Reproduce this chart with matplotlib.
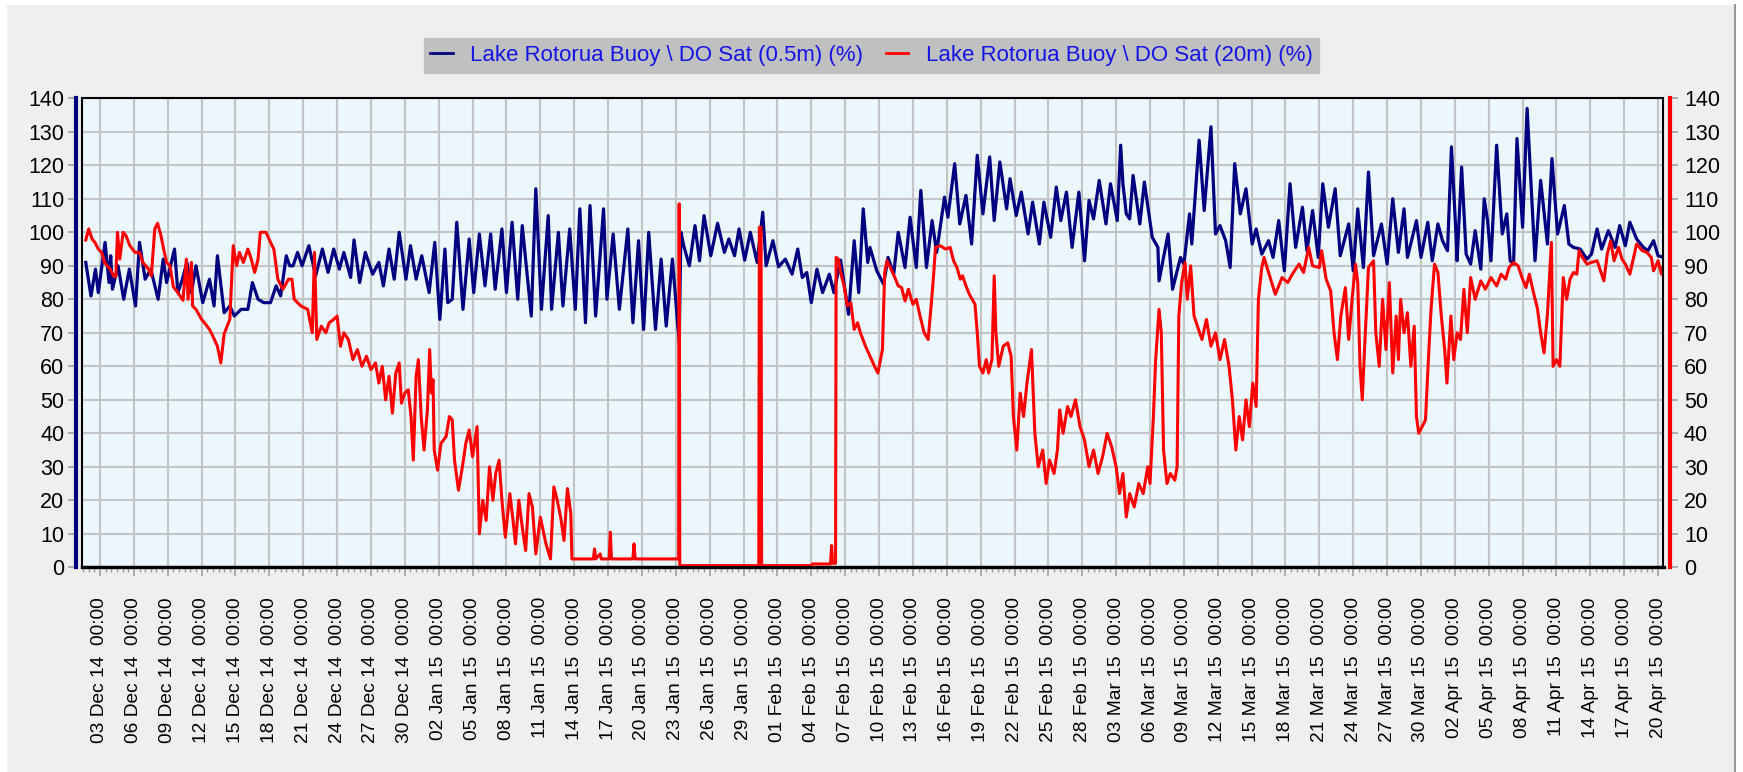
import numpy as np
import pandas as pd
import matplotlib
matplotlib.use("Agg")
import matplotlib.pyplot as plt
import matplotlib.dates as mdates
from matplotlib import font_manager
from matplotlib.patches import Rectangle
from matplotlib.lines import Line2D

# ---------------- data (day number: 1.0 = 01 Dec 2014 00:00) ----------------
series_names = ["Lake Rotorua Buoy \\ DO Sat (0.5m) (%)",
                "Lake Rotorua Buoy \\ DO Sat (20m) (%)"]

blue_day = [1.74, 2.2, 2.6, 2.85, 3.45, 3.8, 3.95, 4.1, 4.6, 5.1, 5.6, 6.15, 6.5, 7.0, 7.5,
            8.15, 8.6, 8.9, 9.6, 9.9, 10.3, 10.7, 11.1, 11.5, 12.1, 12.7, 13.1, 13.4, 14.0,
            14.5, 14.9, 15.5, 16.1, 16.5, 17.0, 17.5, 18.1, 18.6, 19.0, 19.5, 19.8, 20.1,
            20.5, 20.9, 21.5, 22.1, 22.7, 23.2, 23.7, 24.2, 24.6, 25.2, 25.5, 26.0, 26.5,
            27.15, 27.7, 28.1, 28.6, 29.06, 29.5, 30.1, 30.5, 31.0, 31.5, 32.15, 32.65,
            33.1, 33.55, 33.8, 34.2, 34.6, 35.15, 35.7, 36.1, 36.6, 37.1, 37.6, 38.0, 38.6,
            39.0, 39.5, 40.0, 40.4, 41.2, 41.6, 42.1, 42.7, 43.0, 43.6, 44.0, 44.6, 45.1,
            45.5, 46.0, 46.4, 46.9, 47.6, 47.9, 48.45, 49.0, 49.75, 50.2, 50.7, 51.15, 51.6,
            52.2, 52.7, 53.15, 53.7, 54.3, 54.45, 54.7, 55.2, 55.7, 56.1, 56.5, 57.1, 57.7,
            58.3, 58.7, 59.2, 59.6, 60.1, 60.6, 61.2, 61.7, 62.0, 62.6, 63.1, 63.7, 64.3,
            64.8, 65.2, 65.6, 66.0, 66.5, 67.0, 67.6, 68.0, 68.6, 69.3, 69.8, 70.2, 70.6,
            71.0, 71.2, 71.8, 72.4, 72.8, 73.3, 73.7, 74.3, 74.75, 75.3, 75.7, 76.2, 76.7,
            77.1, 77.8, 78.1, 78.7, 79.15, 79.7, 80.2, 80.7, 81.2, 81.8, 82.2, 82.7, 83.3,
            83.6, 84.15, 84.6, 85.2, 85.6, 86.2, 86.6, 87.2, 87.7, 88.1, 88.6, 89.1, 89.7,
            90.2, 90.6, 91.0, 91.5, 92.1, 92.5, 93.1, 93.4, 93.6, 93.9, 94.2, 94.5, 95.1,
            95.5, 96.2, 96.7, 96.8, 97.6, 98.0, 98.7, 99.0, 99.5, 99.7, 100.35, 100.8,
            101.4, 101.8, 102.2, 102.7, 103.1, 103.5, 104.0, 104.5, 105.05, 105.4, 105.9,
            106.5, 106.9, 107.4, 107.9, 108.4, 108.9, 109.5, 109.9, 110.4, 110.9, 111.3,
            111.8, 112.4, 112.85, 113.6, 114.0, 114.4, 114.9, 115.35, 115.8, 116.5, 117.0,
            117.5, 118.0, 118.5, 118.8, 119.6, 120.0, 120.6, 121.0, 121.5, 121.9, 122.35,
            122.7, 123.1, 123.2, 123.6, 124.0, 124.4, 124.8, 125.3, 125.6, 125.9, 126.2,
            126.7, 127.2, 127.6, 127.9, 128.2, 128.5, 129.0, 129.4, 129.7, 130.1, 130.6,
            131.2, 131.6, 132.1, 132.7, 133.1, 133.5, 134.1, 134.7, 135.1, 135.6, 136.0,
            136.6, 137.2, 137.6, 138.1, 138.5, 139.1, 139.7, 140.1, 140.6, 141.0, 141.5]
blue_val = [91, 81, 89, 82, 97, 85, 93, 83, 90, 80, 89, 78, 97, 86, 89,
            80, 92, 85, 95, 82, 86, 91, 82, 90, 79, 86, 78, 93, 76,
            78, 75, 77, 77, 85, 80, 79, 79, 84, 81, 93, 90, 90,
            94, 90, 96, 87, 95, 88, 95, 89, 94, 86.5, 97.7, 85, 94,
            87.5, 91, 84, 95, 86, 100, 86, 96, 86, 93, 82, 97,
            74, 95, 79, 80, 103, 77, 98, 82, 99.5, 84, 99.5, 83, 101,
            82, 103, 80, 102, 75, 113, 77, 105, 77, 100, 78, 101, 77,
            107, 73, 108, 75, 107, 80, 99.5, 77, 101, 73, 97.5, 71, 100,
            71, 92, 72, 92, 67, 100, 96, 90, 102, 91.5, 105, 93, 102.7,
            94, 98, 93, 101, 91.7, 100, 91, 106, 90, 97.5, 89.7, 92, 87.5,
            95, 86.5, 88, 79, 89, 82, 87.5, 82, 91.7, 75.5, 97.5, 82, 107,
            91, 95.5, 88.5, 84.5, 92.5, 87.5, 100, 89.5, 104.5, 89.5, 112.5, 89.5, 103.5,
            94, 110.5, 104.5, 120.5, 102.5, 111, 96.5, 123, 105.5, 122.5, 103.5, 121, 107,
            116, 105, 112, 99.5, 109, 96.5, 109, 98.5, 113.5, 103.5, 112, 95.5, 112,
            91.5, 109.5, 104, 115.5, 102.5, 114.5, 103.5, 126, 114.5, 105.5, 104, 117, 102.5,
            115, 98.5, 95.5, 85.5, 99.5, 83, 92.5, 90.5, 105.5, 96.5, 127.5, 106.5,
            131.5, 99.5, 102, 97.5, 89.5, 120.5, 105.5, 113, 96.5, 101, 93.5,
            97.5, 92.5, 103.5, 88.5, 114.5, 95.5, 107.5, 94.5, 106.5, 92.5, 114.5,
            101.5, 113, 93, 102.5, 88.5, 107, 89.5, 118, 93, 102.5, 90.5,
            110, 94, 107, 92.5, 103.5, 92.5, 103, 91.5, 102.5, 97.5, 94.5,
            125.5, 99.5, 91.5, 119.5, 93.5, 90.5, 100.5, 89, 110, 103.5, 91.5,
            126, 99.5, 105.5, 91.5, 90.5, 128, 101.5, 137, 117.5, 91.5, 115.5,
            96.5, 122, 99.5, 108, 96.5, 95.5, 95, 92, 93.5, 101, 95,
            100.5, 95.5, 102, 96, 103, 98, 95.5, 94.5, 97.5, 93, 92.5]

red_day = [1.74, 2.0, 2.3, 2.55, 2.85, 3.15, 3.4, 3.9, 4.2, 4.4, 4.55, 4.75, 5.05, 5.3, 5.65,
           6.1, 6.5, 6.8, 7.3, 7.55, 7.85, 8.1, 8.4, 8.7, 8.9, 9.2, 9.5, 9.9, 10.35, 10.65,
           10.8, 11.1, 11.2, 11.5, 12.0, 12.25, 12.7, 13.0, 13.4, 13.7, 14.0, 14.5, 14.8,
           15.1, 15.35, 15.7, 16.1, 16.4, 16.7, 17.0, 17.2, 17.7, 18.1, 18.4, 18.75, 19.2,
           19.45, 19.7, 20.0, 20.2, 20.5, 20.8, 21.4, 21.8, 22.0, 22.2, 22.6, 23.0, 23.3,
           23.7, 24.0, 24.3, 24.6, 25.0, 25.4, 25.8, 26.2, 26.6, 27.0, 27.4, 27.7, 28.0,
           28.3, 28.6, 28.9, 29.2, 29.5, 29.7, 30.0, 30.3, 30.55, 30.75, 31.0, 31.2, 31.45,
           31.7, 32.0, 32.2, 32.35, 32.5, 32.6, 32.9, 33.2, 33.65, 33.95, 34.2, 34.4, 34.75,
           35.1, 35.4, 35.7, 36.0, 36.4, 36.6, 36.9, 37.2, 37.5, 37.8, 38.05, 38.35, 38.6,
           38.9, 39.3, 39.55, 39.8, 40.1, 40.4, 40.7, 41.0, 41.3, 41.6, 42.0, 42.5, 42.9,
           43.2, 43.5, 43.8, 44.1, 44.4, 44.7, 44.8, 46.7, 46.8, 46.9, 47.3, 47.4, 48.1,
           48.2, 48.3, 50.2, 50.3, 50.4, 54.25, 54.3, 54.35, 61.35, 61.4, 61.55, 61.6,
           66.0, 66.1, 67.7, 67.8, 67.9, 68.15, 68.2, 68.4, 68.6, 68.9, 69.2, 69.5, 69.8,
           70.1, 70.35, 70.8, 71.2, 71.6, 71.9, 72.3, 72.5, 72.7, 73.0, 73.4, 73.7, 74.0,
           74.3, 74.6, 75.0, 75.3, 75.6, 76.0, 76.35, 76.65, 76.85, 77.0, 77.4, 77.9, 78.3,
           78.6, 78.9, 79.2, 79.4, 79.7, 80.0, 80.5, 80.7, 80.9, 81.2, 81.5, 81.7, 82.0,
           82.2, 82.35, 82.6, 83.0, 83.4, 83.7, 83.9, 84.2, 84.5, 84.8, 85.1, 85.5, 85.8,
           86.1, 86.5, 86.8, 87.1, 87.5, 87.8, 88.0, 88.3, 88.7, 89.0, 89.4, 89.8, 90.2,
           90.6, 91.0, 91.4, 91.8, 92.2, 92.6, 93.0, 93.3, 93.6, 93.9, 94.2, 94.6, 95.0,
           95.4, 95.8, 96.0, 96.3, 96.5, 96.8, 97.0, 97.2, 97.5, 97.8, 98.2, 98.4, 98.55,
           98.8, 99.1, 99.3, 99.6, 99.9, 100.2, 100.6, 101.0, 101.4, 101.8, 102.2, 102.6,
           103.0, 103.3, 103.6, 103.9, 104.2, 104.5, 104.8, 105.1, 105.4, 105.6, 105.9,
           106.1, 106.5, 107.1, 107.7, 108.2, 108.6, 109.2, 109.6, 110.05, 110.4, 111.0,
           111.2, 111.6, 112.0, 112.3, 112.6, 112.9, 113.3, 113.6, 113.9, 114.2, 114.4,
           114.6, 114.8, 115.0, 115.35, 115.8, 116.0, 116.3, 116.6, 116.9, 117.2, 117.5,
           117.8, 118.0, 118.2, 118.5, 118.8, 119.1, 119.4, 119.6, 119.8, 120.1, 120.4,
           120.7, 120.9, 121.2, 121.5, 121.8, 122.1, 122.3, 122.65, 122.9, 123.2, 123.5,
           123.8, 124.1, 124.4, 124.8, 125.3, 125.7, 126.2, 126.7, 127.1, 127.5, 127.8,
           128.2, 128.6, 129.0, 129.3, 129.6, 130.0, 130.3, 130.6, 130.9, 131.2, 131.55,
           131.7, 132.0, 132.3, 132.6, 132.9, 133.2, 133.5, 133.8, 134.0, 134.3, 134.7,
           135.1, 135.6, 135.9, 136.2, 136.5, 136.8, 137.1, 137.5, 137.8, 138.1, 138.5,
           138.8, 139.1, 139.6, 140.0, 140.4, 140.6, 141.0, 141.3, 141.5]
red_val = [97.7, 101, 98, 97, 95, 94, 91, 89, 87, 86.7, 100, 92, 100, 99, 96,
           94, 94, 91, 89, 87, 101, 102.7, 99, 94, 91, 90, 83.7, 82, 79.7, 92,
           80, 91, 78, 77, 74, 73, 71, 69, 66, 61, 69.7, 74, 96,
           90, 94, 91, 95, 92, 88, 92, 100, 100, 97, 95, 86, 83,
           84.5, 86, 86, 80, 79, 78, 77, 70, 94, 68, 72, 70, 73,
           74, 75, 66, 70, 68, 62, 65, 60, 63, 59, 61, 55, 60,
           50, 57, 46, 58, 61, 49, 52, 53, 45, 32, 57, 62, 45,
           35, 47, 65, 52, 56, 35, 29, 37, 39, 45, 44, 32, 23,
           30, 37, 41, 33, 42, 10, 20, 14, 30, 20, 28, 32, 20,
           9, 22, 15, 7, 20, 12, 5, 22, 18, 4, 15, 7, 2.5,
           24, 20, 15, 8, 23.5, 16, 2.5, 2.5, 5.5, 2.5, 4, 2.5, 2.5,
           10.5, 2.5, 2.5, 7, 2.5, 2.5, 108.5, 0.5, 0.5, 101.5, 101.5, 0.5,
           0.5, 1.0, 1.0, 6.5, 1.2, 1.2, 92.5, 92, 88, 84, 78, 79, 71,
           73, 70, 66, 63, 60, 58, 65, 88, 91.5, 89.5, 86.5, 84, 83.5,
           79.5, 83, 78.5, 80, 75.5, 70, 68, 79.5, 88, 95.5, 96, 95, 95.5,
           91.5, 89.5, 86, 87, 84, 81.5, 78.5, 70, 60, 58, 62, 58, 62,
           87, 70, 60, 66, 67, 63, 45, 35, 52, 45, 55, 65, 40,
           30, 35, 25, 32, 28, 35, 47, 40, 48, 45, 50, 42, 38,
           30, 35, 28, 33, 40, 36, 30, 22, 28, 15, 22, 18, 25,
           22, 30, 25, 45, 62, 77, 70, 35, 25, 28, 26, 30, 75,
           85, 91, 80, 90, 75, 72, 68, 74, 66, 70, 62, 68,
           60, 50, 35, 45, 38, 50, 42, 55, 48, 80, 89.5,
           92.5, 88, 81.5, 86.5, 85, 87.5, 90.5, 88, 95.5, 90, 89.5,
           94.5, 86, 82.5, 70, 62, 75, 83.5, 68, 80, 90.5, 85,
           60, 50, 65, 89.5, 91.5, 70, 60, 80, 65, 85, 58,
           75, 62, 80, 70, 76, 60, 72, 45, 40, 42, 44,
           65, 77.5, 90.5, 88, 75, 65, 55, 75, 62, 70, 68,
           83, 70, 86.5, 80, 85.5, 83, 86.5, 84, 87.5, 86, 89.5,
           91, 90, 86, 83.5, 87.5, 81.5, 77.5, 70, 64, 75.5, 97,
           60, 62, 60, 86.5, 80, 86, 88, 87.5, 94.5, 92.5, 90.5,
           91, 91.5, 88.5, 85.5, 93.5, 97.5, 91.5, 95.5, 92, 90.5, 87.5,
           92, 96.5, 94.5, 94, 92.5, 88.5, 91.5, 87.5, 90.5]

y_ticks = list(range(0, 141, 10))
start_date = "2014-11-30"
first_label_day = "2014-12-03"
last_label_day = "2015-04-20"

# ---------------- fonts ----------------
avail = {f.name for f in font_manager.fontManager.ttflist}
base_font = "Liberation Sans" if "Liberation Sans" in avail else "DejaVu Sans"
if "Liberation Sans Narrow" in avail:
    xfont, xsize = "Liberation Sans Narrow", 16.8
else:
    xfont, xsize = base_font, 13.8
plt.rcParams["font.family"] = [base_font, "DejaVu Sans"]

# ---------------- figure ----------------
W, H, DPI = 1743, 772, 100
fig = plt.figure(figsize=(W / DPI, H / DPI), dpi=DPI, facecolor="white")
fig.patches.append(Rectangle((7 / W, 0), (1735 - 7) / W, 1 - 5 / H,
                             transform=fig.transFigure, facecolor="#efefef",
                             edgecolor="none", zorder=-10))
fig.lines.append(Line2D([1735 / W, 1735 / W], [0, 1 - 5 / H], transform=fig.transFigure,
                        color="#9a9a9a", lw=1.5))

left, right, top, bottom = 81.7, 1663.5, 98.3, 567.3
ax = fig.add_axes([left / W, 1 - bottom / H, (right - left) / W, (bottom - top) / H])
ax.set_facecolor("#ebf7fd")
ax2 = ax.twinx()

base = pd.Timestamp(start_date)
bt = base + pd.to_timedelta(np.array(blue_day), unit="D")
rt = base + pd.to_timedelta(np.array(red_day), unit="D")

ax.plot(bt, blue_val, color="#000080", lw=2.3, zorder=3, label=series_names[0])
ax2.plot(rt, red_val, color="#ff0000", lw=2.2, zorder=3, label=series_names[1])

xmin = base + pd.Timedelta(days=1.38)
xmax = base + pd.Timedelta(days=141.48)
for a in (ax, ax2):
    a.set_xlim(xmin, xmax)
    a.set_ylim(0, 140)

major = pd.date_range(first_label_day, last_label_day, freq="3D")
minor = pd.date_range("2014-12-01 12:00", "2015-04-20 00:00", freq="12h")
ax.set_xticks(major)
ax.set_xticks(minor, minor=True)
ax.xaxis.set_major_formatter(mdates.DateFormatter("%d %b %y  %H:%M"))
for lab in ax.get_xticklabels():
    lab.set_rotation(90)
    lab.set_fontfamily(xfont)
    lab.set_fontsize(xsize)
ax.tick_params(axis="x", which="major", length=6.5, width=1.1, color="#9a9a9a",
               pad=15, labelcolor="black")
ax.tick_params(axis="x", which="minor", length=3.6, width=1.0, color="#9a9a9a")

ax.set_yticks(y_ticks)
ax2.set_yticks(y_ticks)
ax.tick_params(axis="y", length=6, width=1.1, color="#9a9a9a", labelsize=15.5, pad=2.5)
ax2.tick_params(axis="y", length=6, width=1.1, color="#9a9a9a", labelsize=15.5, pad=4)

ax.grid(True, which="major", color="#c4c4c4", lw=1.5, zorder=0)
ax.set_axisbelow(True)

# axes spines (coloured value bars offset from the plot frame)
ax.spines["left"].set_position(("outward", 4.1))
ax.spines["left"].set_color("#000080")
ax.spines["left"].set_linewidth(3.0)
ax.spines["right"].set_visible(False)
ax.spines["top"].set_visible(False)
ax.spines["bottom"].set_color("black")
ax.spines["bottom"].set_linewidth(2.4)
for s in ("left", "top", "bottom"):
    ax2.spines[s].set_visible(False)
ax2.spines["right"].set_position(("outward", 4.7))
ax2.spines["right"].set_color("#ff0000")
ax2.spines["right"].set_linewidth(3.0)

# plot frame
ax2.add_patch(Rectangle((0, 0), 1, 1, transform=ax2.transAxes, fill=False,
                        edgecolor="black", lw=1.5, zorder=10, clip_on=False))

# legend
handles = [Line2D([], [], color="#000080", lw=2.0), Line2D([], [], color="#ff0000", lw=2.0)]
leg = fig.legend(handles, series_names, loc="center", bbox_to_anchor=(0.5, 1 - 55.5 / H),
                 ncol=2, frameon=True, fancybox=False, facecolor="#c0c0c0",
                 edgecolor="#c0c0c0", framealpha=1, fontsize=16, handlelength=1.0,
                 handletextpad=0.8, columnspacing=1.0, borderpad=0.3, borderaxespad=0)
for t in leg.get_texts():
    t.set_color("#1414e6")

fig.savefig("out.png", dpi=DPI, facecolor=fig.get_facecolor())
